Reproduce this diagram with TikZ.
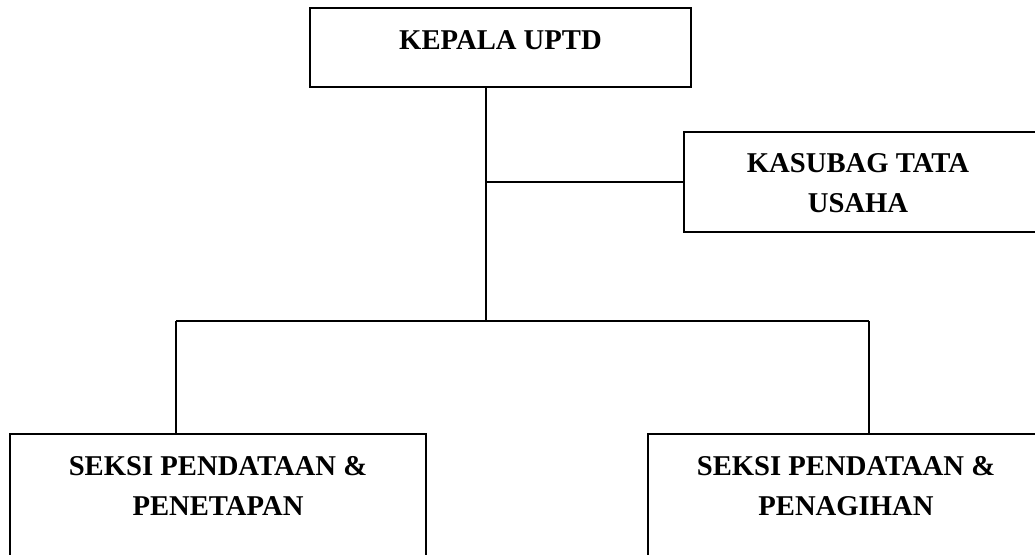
\documentclass[tikz,border=0pt]{standalone}
\usepackage{fontspec}
\setmainfont{Liberation Serif}
\usetikzlibrary{positioning}

\begin{document}
\begin{tikzpicture}[x=0.75pt, y=-0.75pt, line width=1.3pt,
    font=\fontsize{21.5}{29.6}\selectfont\bfseries,
    box/.style={draw, inner sep=0pt},
    caption/.style={inner sep=0pt, align=center}]

\useasboundingbox (0,0) rectangle (1035,554);

\begin{scope}
    \node[box, minimum width=285.75pt, minimum height=59.25pt] (kepala) at (500.5,47.5) {};
    \node[box, minimum width=267pt, minimum height=75pt] (kasubag) at (862,182) {};
    \node[box, minimum width=312pt, minimum height=102pt] (seksia) at (218,502) {};
    \node[box, minimum width=297pt, minimum height=102pt] (seksib) at (846,502) {};
\end{scope}

\node[caption, below=17pt of kepala.north] (kepalatxt) {KEPALA UPTD};
\node[caption, below=16.5pt of kasubag.north, xshift=-3pt] (kasubagtxt) {KASUBAG TATA\\USAHA};
\node[caption, below=17pt of seksia.north] (seksiatxt) {SEKSI PENDATAAN \&\\PENETAPAN};
\node[caption, below=17pt of seksib.north] (seksibtxt) {SEKSI PENDATAAN \&\\PENAGIHAN};

\coordinate (hub) at (486,321);
\coordinate (kiri) at (176,321);
\coordinate (kanan) at (869,321);

\draw (kepala.south -| hub) -- (hub);
\draw (kasubag.west) -- (kasubag.west -| hub);
\draw (kiri) -- (kanan);
\draw (kiri) -- (kiri |- seksia.north);
\draw (kanan) -- (kanan |- seksib.north);

\end{tikzpicture}
\end{document}
